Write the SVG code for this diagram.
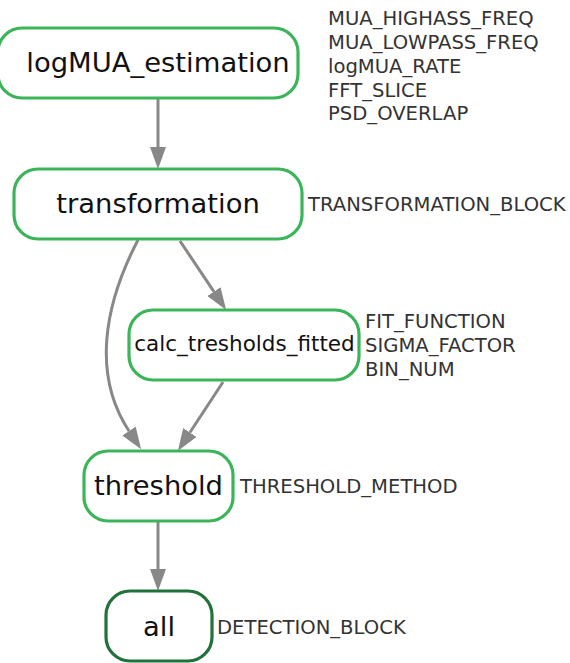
<svg xmlns="http://www.w3.org/2000/svg" width="570" height="663" viewBox="0 0 570 663">
  <style>
    .node rect { fill: #ffffff; stroke: #3cb55a; stroke-width: 3.2; }
    .node.target rect { stroke: #22713a; }
    .name { font-family: "DejaVu Sans", sans-serif; fill: #111111; text-anchor: middle; }
    .param { font-family: "DejaVu Sans", sans-serif; font-size: 19.6px; fill: #333333; }
    .edge { fill: none; stroke: #888888; stroke-width: 3; }
  </style>
  <defs>
    <marker id="arrow" markerUnits="userSpaceOnUse" viewBox="0 0 22 16" refX="0" refY="8" markerWidth="22" markerHeight="16" orient="auto">
      <path d="M0,0 L22,8 L0,16 Z" fill="#888888"/>
    </marker>
  </defs>

  <rect width="570" height="663" fill="#ffffff"/>

  <!-- dependency edges -->
  <g id="edges">
    <path class="edge" marker-end="url(#arrow)" d="M158,98 L158,147"/>
    <path class="edge" marker-end="url(#arrow)" d="M180,241 L213.9,291.6"/>
    <path class="edge" marker-end="url(#arrow)" d="M138,240 C104,305 92,375 129,431"/>
    <path class="edge" marker-end="url(#arrow)" d="M223,382 L189.9,432.5"/>
    <path class="edge" marker-end="url(#arrow)" d="M158,521 L158,569"/>
  </g>

  <g id="logMUA_estimation" class="node">
    <rect x="-2" y="28" width="300" height="70" rx="24"/>
    <text class="name" x="158" y="72" font-size="27.4">logMUA_estimation</text>
    <text class="param" x="328" y="25">MUA_HIGHASS_FREQ</text>
    <text class="param" x="328" y="49">MUA_LOWPASS_FREQ</text>
    <text class="param" x="328" y="72.5">logMUA_RATE</text>
    <text class="param" x="328" y="96.5">FFT_SLICE</text>
    <text class="param" x="328" y="120">PSD_OVERLAP</text>
  </g>

  <g id="transformation" class="node">
    <rect x="14" y="169" width="288" height="70" rx="24"/>
    <text class="name" x="158" y="213" font-size="27.4">transformation</text>
    <text class="param" x="308" y="211">TRANSFORMATION_BLOCK</text>
  </g>

  <g id="calc_tresholds_fitted" class="node">
    <rect x="129" y="310" width="230" height="70" rx="24"/>
    <text class="name" x="244.5" y="351" font-size="21.5">calc_tresholds_fitted</text>
    <text class="param" x="365" y="328">FIT_FUNCTION</text>
    <text class="param" x="365" y="352">SIGMA_FACTOR</text>
    <text class="param" x="365" y="376">BIN_NUM</text>
  </g>

  <g id="threshold" class="node">
    <rect x="84" y="451" width="149" height="70" rx="24"/>
    <text class="name" x="158.5" y="495" font-size="27.4">threshold</text>
    <text class="param" x="240" y="493">THRESHOLD_METHOD</text>
  </g>

  <g id="all" class="node target">
    <rect x="106" y="591" width="106" height="70" rx="24"/>
    <text class="name" x="159" y="636" font-size="27.4">all</text>
    <text class="param" x="217" y="634">DETECTION_BLOCK</text>
  </g>
</svg>
